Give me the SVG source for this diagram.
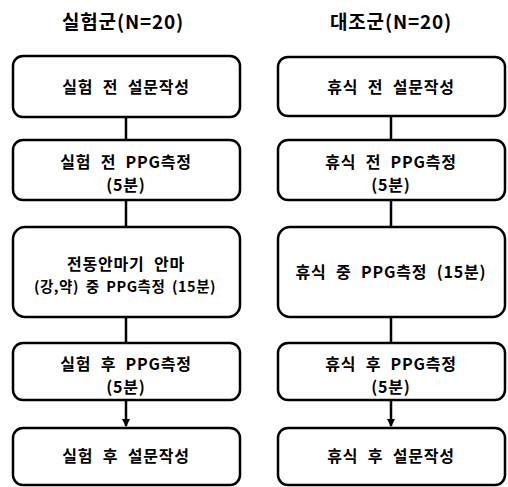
<svg xmlns="http://www.w3.org/2000/svg" width="508" height="487" viewBox="0 0 508 487">
<style>
.box{fill:#fff;stroke:#000;stroke-width:2.5}
.t{font-family:"Noto Sans CJK KR","Noto Sans",sans-serif;font-weight:bold;font-size:16px;letter-spacing:0.8px;word-spacing:5px;text-anchor:middle;fill:#000}
.s{font-size:14.5px;letter-spacing:0.5px;word-spacing:3px}
.h{font-size:19px;letter-spacing:0.8px}
.c{stroke:#000;stroke-width:2.5;fill:none}
</style>
<defs>
<marker id="ah" markerWidth="8" markerHeight="8" refX="7" refY="4" orient="auto" markerUnits="userSpaceOnUse">
<path d="M0,0 L8,4 L0,8 Z" fill="#000"/>
</marker>
</defs>
<text class="t h" x="123" y="29">실험군(N=20)</text>
<text class="t h" x="391" y="29">대조군(N=20)</text>
<g id="connectors">
<line class="c" x1="126" y1="117" x2="126" y2="140"/>
<line class="c" x1="126" y1="200" x2="126" y2="227"/>
<line class="c" x1="126" y1="317" x2="126" y2="343"/>
<line class="c" x1="126" y1="400" x2="126" y2="426" marker-end="url(#ah)"/>
<line class="c" x1="391" y1="116" x2="391" y2="140"/>
<line class="c" x1="391" y1="200" x2="391" y2="227"/>
<line class="c" x1="391" y1="317" x2="391" y2="343"/>
<line class="c" x1="391" y1="400" x2="391" y2="426" marker-end="url(#ah)"/>
</g>
<g id="L1"><rect class="box" x="13" y="56" width="227" height="61" rx="10"/><text class="t" x="126" y="93">실험 전 설문작성</text></g>
<g id="L2"><rect class="box" x="13" y="140" width="227" height="60" rx="10"/><text class="t" x="126" y="168">실험 전 PPG측정</text><text class="t" x="126" y="191">(5분)</text></g>
<g id="L3"><rect class="box" x="13" y="227" width="227" height="90" rx="12"/><text class="t" x="126" y="270">전동안마기 안마</text><text class="t s" x="125" y="292">(강,약) 중 PPG측정 (15분)</text></g>
<g id="L4"><rect class="box" x="13" y="343" width="227" height="57" rx="10"/><text class="t" x="126" y="370">실험 후 PPG측정</text><text class="t" x="126" y="393">(5분)</text></g>
<g id="L5"><rect class="box" x="13" y="428" width="227" height="57" rx="10"/><text class="t" x="126" y="462">실험 후 설문작성</text></g>
<g id="R1"><rect class="box" x="278" y="57" width="227" height="59" rx="10"/><text class="t" x="391" y="93">휴식 전 설문작성</text></g>
<g id="R2"><rect class="box" x="278" y="140" width="227" height="60" rx="10"/><text class="t" x="391" y="168">휴식 전 PPG측정</text><text class="t" x="391" y="191">(5분)</text></g>
<g id="R3"><rect class="box" x="278" y="227" width="227" height="90" rx="12"/><text class="t" x="391" y="278">휴식 중 PPG측정 (15분)</text></g>
<g id="R4"><rect class="box" x="278" y="343" width="227" height="57" rx="10"/><text class="t" x="391" y="370">휴식 후 PPG측정</text><text class="t" x="391" y="393">(5분)</text></g>
<g id="R5"><rect class="box" x="278" y="428" width="227" height="57" rx="10"/><text class="t" x="391" y="462">휴식 후 설문작성</text></g>
</svg>
